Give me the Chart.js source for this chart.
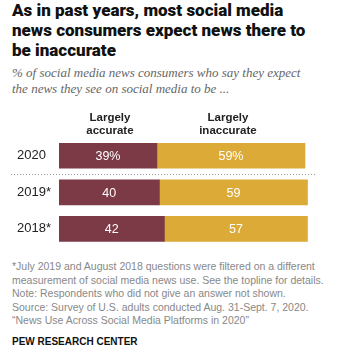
<!DOCTYPE html>
<html>
<head>
<meta charset="utf-8">
<script src="https://cdn.jsdelivr.net/npm/chart.js@4"></script>
<style>
  body { margin: 0; width: 341px; height: 354px; background: #fff; position: relative; overflow: hidden; font-family: "Liberation Sans", Arial, sans-serif; }
  .title { position: absolute; left: 12px; top: 0px; font-family: Roboto, "Liberation Sans", sans-serif; font-weight: 900; font-size: 17px; line-height: 20px; color: #111; white-space: nowrap; }
  .sub { position: absolute; left: 12px; top: 65px; font-family: "Liberation Serif", serif; font-style: italic; font-size: 13px; line-height: 16px; color: #666; white-space: nowrap; }
  .wrap { position: absolute; left: 0; top: 105px; width: 341px; height: 150px; }
  .foot { position: absolute; left: 12px; top: 260px; font-size: 10.5px; line-height: 13.5px; color: #888; white-space: nowrap; }
  .pew { position: absolute; left: 12px; top: 336px; font-size: 10px; font-weight: bold; color: #111; white-space: nowrap; }
</style>
</head>
<body>
<div class="title">As in past years, most social media<br>news consumers expect news there to<br>be inaccurate</div>
<div class="sub">% of social media news consumers who say they expect<br>the news they see on social media to be ...</div>
<div class="wrap"><canvas id="myChart"></canvas></div>
<div class="foot">*July 2019 and August 2018 questions were filtered on a different<br>measurement of social media news use. See the topline for details.<br>Note: Respondents who did not give an answer not shown.<br>Source: Survey of U.S. adults conducted Aug. 31-Sept. 7, 2020.<br>&ldquo;News Use Across Social Media Platforms in 2020&rdquo;</div>
<div class="pew">PEW RESEARCH CENTER</div>
<script>
// Data
var years = ['2020', '2019*', '2018*'];
var accurate = [39, 40, 42];
var inaccurate = [59, 59, 57];
var seriesNames = [['Largely', 'accurate'], ['Largely', 'inaccurate']];

// Header labels over the first bar, plus the dotted separator after 2020
var extras = {
    id: 'extras',
    afterDraw: function(chart) {
        var c = chart.ctx;
        var x = chart.scales.x;
        var y = chart.scales.y;
        c.save();
        c.fillStyle = '#222';
        c.font = 'bold 11.5px "Liberation Sans", Arial, sans-serif';
        c.textAlign = 'center';
        c.textBaseline = 'middle';
        var centers = [
            x.getPixelForValue(accurate[0] / 2) + 2,
            x.getPixelForValue(accurate[0] + inaccurate[0] / 2) - 3
        ];
        seriesNames.forEach(function(lines, i) {
            c.fillText(lines[0], centers[i], 13);
            c.fillText(lines[1], centers[i], 26);
        });
        var sep = (y.getPixelForValue(0) + y.getPixelForValue(1)) / 2;
        c.strokeStyle = '#999';
        c.lineWidth = 1;
        c.setLineDash([1, 2]);
        c.beginPath();
        c.moveTo(11, Math.round(sep) + 0.5);
        c.lineTo(315, Math.round(sep) + 0.5);
        c.stroke();
        c.restore();
    }
};

// Value labels inside the bar segments
var barLabels = {
    id: 'barLabels',
    afterDatasetsDraw: function(chart) {
        var c = chart.ctx;
        c.save();
        c.fillStyle = '#fff';
        c.font = '12.5px "Liberation Sans", Arial, sans-serif';
        c.textAlign = 'center';
        c.textBaseline = 'middle';
        chart.data.datasets.forEach(function(ds, di) {
            chart.getDatasetMeta(di).data.forEach(function(bar, i) {
                var txt = ds.data[i] + (i === 0 ? '%' : '');
                c.fillText(txt, (bar.x + bar.base) / 2, bar.y + 1);
            });
        });
        c.restore();
    }
};

var ctx = document.getElementById('myChart').getContext('2d');
var myChart = new Chart(ctx, {
    type: 'bar',
    data: {
        labels: years,
        datasets: [{
            label: 'Largely accurate',
            data: accurate,
            backgroundColor: '#7b3a45',
            barThickness: 25
        }, {
            label: 'Largely inaccurate',
            data: inaccurate,
            backgroundColor: '#dcaa36',
            barThickness: 25
        }]
    },
    options: {
        indexAxis: 'y',
        responsive: true,
        maintainAspectRatio: false,
        animation: false,
        layout: { padding: { left: 17, right: 31, top: 32.5, bottom: 0.5 } },
        plugins: {
            legend: { display: false },
            tooltip: { enabled: false }
        },
        scales: {
            x: { stacked: true, min: 0, max: 100, display: false },
            y: {
                stacked: true,
                grid: { display: false },
                border: { display: false },
                ticks: {
                    color: '#222',
                    crossAlign: 'far',
                    padding: 0,
                    font: { size: 13, family: '"Liberation Sans", Arial, sans-serif' }
                },
                afterFit: function(scale) { scale.width = 42; }
            }
        }
    },
    plugins: [extras, barLabels]
});
</script>
</body>
</html>
